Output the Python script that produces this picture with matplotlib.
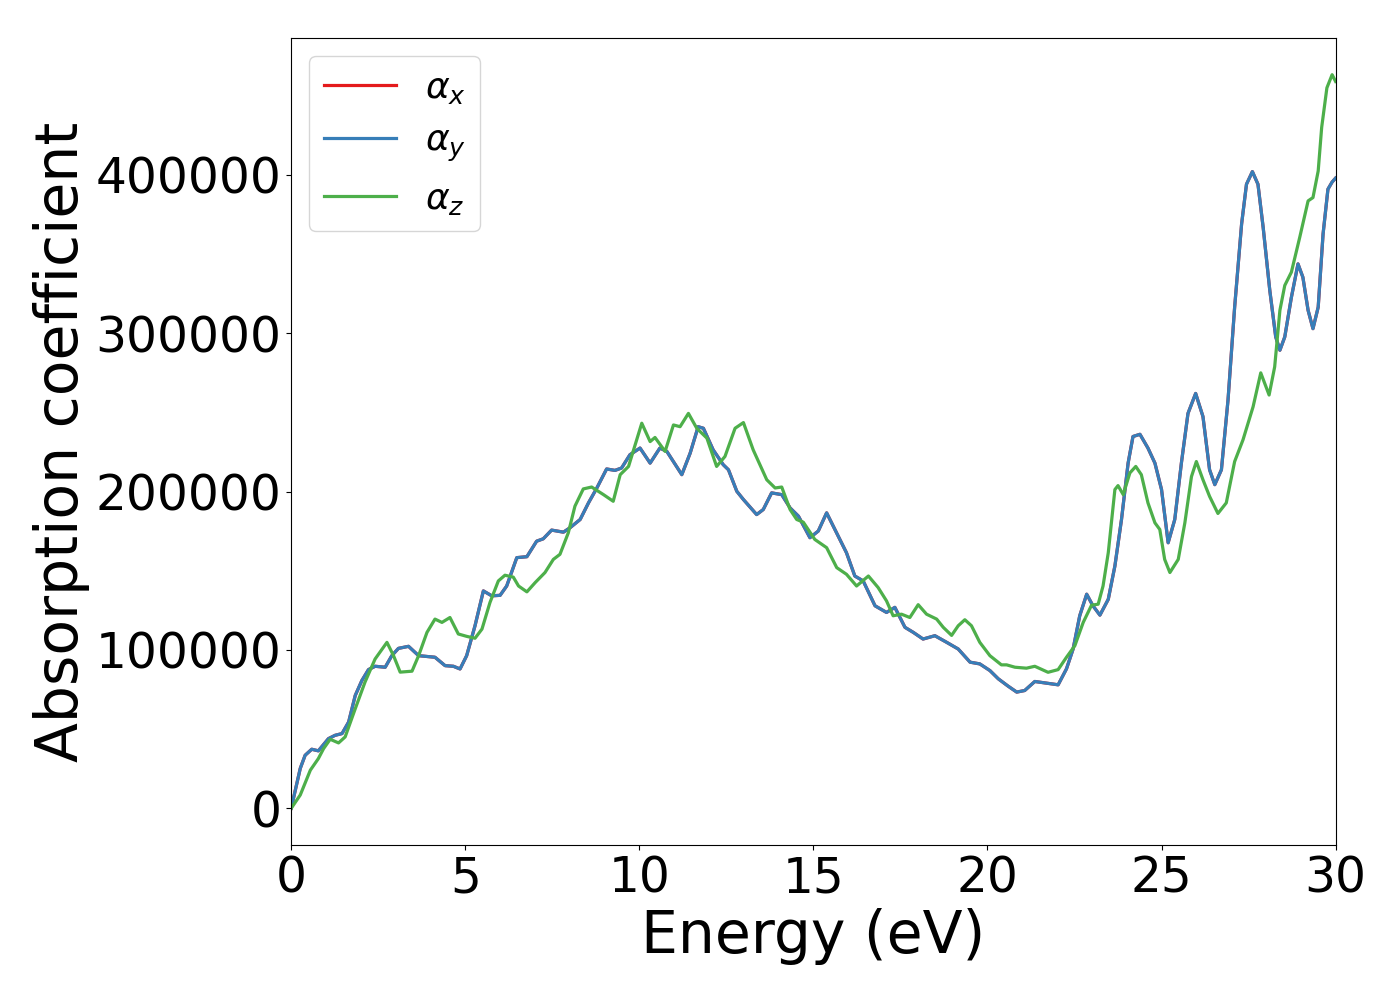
import matplotlib
matplotlib.use("Agg")
import matplotlib.pyplot as plt

# Energy (eV) and absorption for alpha_x / alpha_y (identical curves)
energy_xy = [0.00, 0.26, 0.40, 0.59, 0.78, 1.07, 1.26, 1.46, 1.65, 1.84, 2.03, 2.22, 2.41, 2.70,
             2.89, 3.08, 3.37, 3.66, 4.13, 4.42, 4.66, 4.85, 5.04, 5.28, 5.52, 5.76, 6.00, 6.19,
             6.48, 6.77, 7.05, 7.24, 7.48, 7.82, 8.01, 8.30, 8.54, 8.78, 9.06, 9.30, 9.49, 9.73,
             10.02, 10.31, 10.59, 10.79, 11.22, 11.46, 11.69, 11.84, 12.12, 12.41, 12.56, 12.80,
             12.99, 13.37, 13.56, 13.80, 14.09, 14.33, 14.57, 14.90, 15.14, 15.38, 15.57, 15.95,
             16.19, 16.43, 16.77, 17.10, 17.34, 17.63, 17.87, 18.15, 18.49, 18.83, 19.16, 19.50,
             19.78, 20.07, 20.31, 20.59, 20.84, 21.07, 21.36, 21.70, 22.03, 22.27, 22.46, 22.65,
             22.85, 23.03, 23.23, 23.47, 23.66, 23.85, 24.04, 24.18, 24.38, 24.61, 24.81, 25.00,
             25.19, 25.38, 25.57, 25.76, 25.98, 26.19, 26.38, 26.53, 26.72, 26.91, 27.10, 27.30,
             27.44, 27.61, 27.77, 27.92, 28.11, 28.28, 28.40, 28.54, 28.73, 28.92, 29.06, 29.21,
             29.35, 29.50, 29.64, 29.78, 29.90, 30.00]
alpha_y = [0, 25200, 33500, 37300, 36300, 44000, 46100, 47200, 54500, 71300, 80700, 87600, 89700, 89100,
           96400, 101000, 102300, 96400, 95400, 90100, 89700, 88000, 96400, 115300, 137300, 134200, 134500, 140400,
           158300, 158900, 168700, 170200, 175700, 174400, 177200, 182400, 192900, 202300, 214300, 213400, 214900, 223300,
           227500, 218000, 227500, 225400, 210700, 224300, 241000, 240000, 226400, 217000, 213800, 200200,
           195000, 185500, 188700, 199200, 198100, 189700, 184500, 170900, 175100, 186600, 178200, 161400,
           146700, 143600, 127900, 123700, 126900, 114300, 111100, 106900, 109000, 104800, 100600, 92300,
           91200, 87000, 81800, 77200, 73400, 74400, 80100, 79000, 78000, 88100, 100600, 121600,
           135200, 127900, 122000, 132000, 153000, 182400, 218000, 234800, 236200, 227500, 218000, 201300,
           167700, 182400, 218000, 249400, 262000, 247400, 213800, 204400, 213800, 257900, 316500, 369000,
           394100, 402100, 394100, 366700, 327000, 297700, 289300, 297700, 322700, 343800, 335400, 314500,
           302900, 316500, 362700, 391000, 395500, 398000]
alpha_x = list(alpha_y)

energy_z = [0.00, 0.26, 0.55, 0.78, 0.93, 1.12, 1.36, 1.55, 1.84, 2.12, 2.41, 2.75, 2.94, 3.13,
            3.47, 3.66, 3.90, 4.13, 4.33, 4.56, 4.80, 5.04, 5.28, 5.48, 5.71, 5.95, 6.14, 6.38,
            6.53, 6.77, 7.01, 7.29, 7.53, 7.72, 7.96, 8.15, 8.39, 8.63, 8.97, 9.25, 9.45, 9.69,
            9.88, 10.07, 10.31, 10.45, 10.74, 10.98, 11.17, 11.41, 11.65, 11.94, 12.22, 12.46,
            12.75, 12.99, 13.27, 13.66, 13.90, 14.09, 14.33, 14.52, 14.71, 15.04, 15.38, 15.67,
            15.95, 16.24, 16.58, 16.86, 17.10, 17.29, 17.53, 17.77, 18.01, 18.25, 18.54, 18.73,
            18.97, 19.16, 19.35, 19.54, 19.78, 20.07, 20.40, 20.55, 20.79, 21.12, 21.36, 21.74,
            22.03, 22.27, 22.51, 22.75, 22.99, 23.18, 23.32, 23.47, 23.66, 23.75, 23.90, 24.09,
            24.26, 24.42, 24.61, 24.81, 24.95, 25.09, 25.24, 25.48, 25.67, 25.86, 26.00, 26.19,
            26.38, 26.62, 26.86, 27.10, 27.34, 27.63, 27.85, 28.09, 28.25, 28.40, 28.54, 28.73,
            28.97, 29.21, 29.35, 29.50, 29.60, 29.75, 29.90, 30.00]
alpha_z = [0, 8400, 24100, 31400, 37700, 43600, 41300, 45100, 62900, 79700, 94300, 104800, 96400, 86000,
           86600, 96400, 111100, 119500, 117400, 120500, 110100, 108600, 107400, 113200, 130000, 143600, 147200, 146000,
           140400, 136700, 142600, 148900, 157200, 160400, 174000, 190800, 201700, 202900, 198100, 193900, 210700, 215900,
           229600, 243200, 231600, 234200, 225400, 242100, 241000, 249400, 240000, 233800, 215900, 222200,
           240000, 243600, 226400, 207500, 202300, 202900, 188700, 182400, 180700, 169800, 164600, 152000,
           147800, 140400, 146700, 139400, 131000, 121600, 122600, 120500, 128600, 122600, 119500, 114300,
           109200, 115300, 119100, 115300, 104800, 96400, 90600, 90600, 89100, 88500, 89700, 85900,
           87600, 95400, 102700, 117400, 128300, 128900, 140400, 161400, 201300, 203800, 198100, 211800,
           215900, 210700, 192900, 180300, 176100, 157200, 148900, 157200, 180300, 209500, 219000, 207500,
           197000, 186200, 192900, 219000, 232700, 253600, 275000, 261000, 278800, 314500, 330200, 338600,
           360600, 383600, 385700, 402500, 430000, 455000, 463300, 459000]

labels = [r'$\alpha_x$', r'$\alpha_y$', r'$\alpha_z$']
colors = ['#e41a1c', '#377eb8', '#4daf4a']

fig = plt.figure(figsize=(14, 10), dpi=100)
ax = fig.add_axes([0.208, 0.155, 0.746, 0.807])
ax.plot(energy_xy, alpha_x, color=colors[0], lw=2.3, label=labels[0])
ax.plot(energy_xy, alpha_y, color=colors[1], lw=2.3, label=labels[1])
ax.plot(energy_z, alpha_z, color=colors[2], lw=2.3, label=labels[2])
ax.set_xlim(0, 30)
ax.set_xlabel('Energy (eV)', fontsize=42)
ax.set_ylabel('Absorption coefficient', fontsize=42)
ax.tick_params(labelsize=35)
ax.legend(loc='upper left', fontsize=26, handlelength=2.0)
fig.savefig('out.png', dpi=100)
